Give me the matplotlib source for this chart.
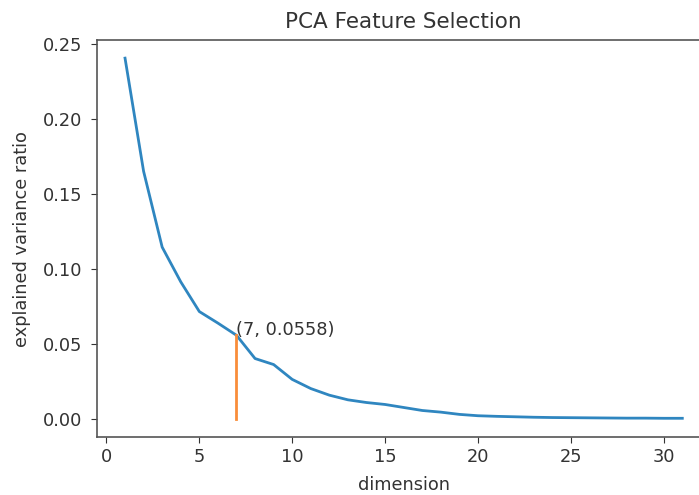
import numpy as np
import matplotlib
matplotlib.use("Agg")
import matplotlib.pyplot as plt

# explained variance ratio per PCA dimension
dims = list(range(1, 32))
ratios = [0.2404, 0.1650, 0.1145, 0.0914, 0.0716, 0.0639, 0.0558, 0.0403,
          0.0363, 0.0264, 0.0203, 0.0159, 0.0128, 0.0110, 0.0097, 0.0077,
          0.0057, 0.0046, 0.0031, 0.0022, 0.0018, 0.0015, 0.0012, 0.0010,
          0.0009, 0.0008, 0.0007, 0.0006, 0.0006, 0.0005, 0.0005]
sel_dim = 7
sel_ratio = 0.0558

plt.rcParams["font.size"] = 12.8
plt.rcParams["text.color"] = "#333333"
plt.rcParams["axes.labelcolor"] = "#333333"
plt.rcParams["xtick.color"] = "#333333"
plt.rcParams["ytick.color"] = "#333333"
plt.rcParams["xtick.major.size"] = 4.5
plt.rcParams["ytick.major.size"] = 4.5
plt.rcParams["ytick.major.pad"] = 6.5

fig = plt.figure(figsize=(6.99, 4.95), dpi=100)
ax = fig.add_axes([0.139, 0.117, 0.877, 0.802])

ax.plot(dims, ratios, color="#2f86c0", linewidth=2.0)
ax.plot([sel_dim, sel_dim], [0, sel_ratio], color="#f98d3a", linewidth=2.0)
ax.annotate(f"({sel_dim}, {sel_ratio})", xy=(sel_dim, sel_ratio))

ax.set_title("PCA Feature Selection", fontsize=15.5, pad=9)
ax.set_xlabel("dimension", labelpad=7)
ax.set_ylabel("explained variance ratio", labelpad=8)
ax.set_xticks([0, 5, 10, 15, 20, 25, 30])
ax.set_yticks([0.0, 0.05, 0.10, 0.15, 0.20, 0.25])
for s in ax.spines.values():
    s.set_color("#555555")
    s.set_linewidth(1.2)

fig.savefig("out.png", dpi=100)
